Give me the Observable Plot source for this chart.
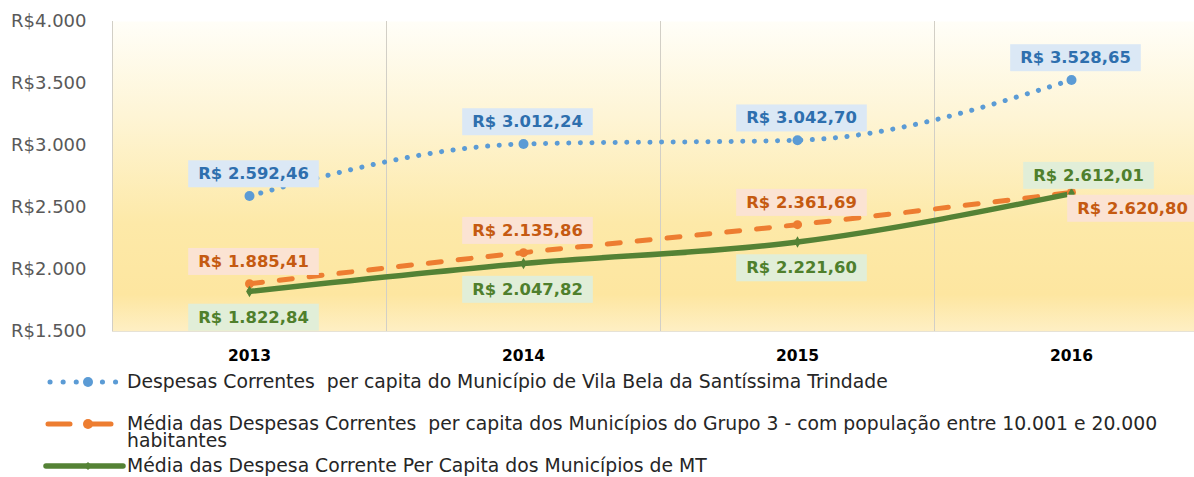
<!DOCTYPE html>
<html>
<head>
<meta charset="utf-8">
<script src="https://cdn.jsdelivr.net/npm/d3@7"></script>
<script src="https://cdn.jsdelivr.net/npm/@observablehq/plot@0.6"></script>
<style>
  html, body { margin: 0; padding: 0; background: #fff; overflow: hidden; }
  #chart svg { display: block; }
  .legend { font-family: "DejaVu Sans", sans-serif; font-size: 18.8px; color: #262626; position: relative; height: 112px; }
  .legend .item { position: absolute; left: 0; display: flex; align-items: flex-start; }
  .legend .item svg { display: block; flex: none; margin-top: 2px; }
  .legend .txt { white-space: pre; line-height: 17px; }
</style>
</head>
<body>
<div id="chart"></div>
<div class="legend" id="legend"></div>
<script>
// ---- data ----
const years = [2013, 2014, 2015, 2016];
const vilaBela = [2592.46, 3012.24, 3042.70, 3528.65];
const grupo3 = [1885.41, 2135.86, 2361.69, 2620.80];
const mediaMT = [1822.84, 2047.82, 2221.60, 2612.01];
const yTicks = [1500, 2000, 2500, 3000, 3500, 4000];
const seriesNames = [
  "Despesas Correntes  per capita do Município de Vila Bela da Santíssima Trindade",
  "Média das Despesas Correntes  per capita dos Municípios do Grupo 3 - com população entre 10.001 e 20.000\nhabitantes",
  "Média das Despesa Corrente Per Capita dos Municípios de MT"
];

const loc = d3.formatLocale({decimal: ",", thousands: ".", grouping: [3], currency: ["R$", ""]});
const money = loc.format(",.2f");
const intFmt = loc.format(",");

const toRows = (vals, key) => years.map((y, i) => ({year: y, value: vals[i], key, label: "R$ " + money(vals[i])}));
const blue = toRows(vilaBela, "a");
const orange = toRows(grupo3, "b");
const green = toRows(mediaMT, "c");
const boundaries = years.map(y => y - 0.5);

const C = {
  blue: "#5b9bd5", orange: "#ed7d31", green: "#548235",
  blueTxt: "#2e6fae", orangeTxt: "#c55a11", greenTxt: "#4f7f2c"
};
const boxFill = {};
boxFill[C.blueTxt] = "#dbe8f5";
boxFill[C.orangeTxt] = "#fbe3d3";
boxFill[C.greenTxt] = "#e1eed8";

const lblFont = {fontSize: 16.4, fontWeight: "bold"};

const plot = Plot.plot({
  width: 1208,
  height: 365,
  marginLeft: 112,
  marginRight: 0,
  marginTop: 21,
  marginBottom: 34,
  style: {fontFamily: "DejaVu Sans, sans-serif", maxWidth: "none", background: "transparent"},
  x: {domain: [2012.5, 2016.5]},
  y: {domain: [1500, 4000]},
  marks: [
    Plot.frame({fill: "url(#bgGrad)", stroke: "none"}),
    Plot.ruleX(boundaries, {stroke: "#d2cfc6", strokeWidth: 1}),
    Plot.ruleY([1500], {stroke: "#e6e2d6", strokeWidth: 1}),
    Plot.axisY({ticks: yTicks, tickSize: 0, tickPadding: 26, fontSize: 18, fill: "#595959", label: null,
      tickFormat: d => "R$" + intFmt(d)}),
    Plot.axisX({ticks: years, tickSize: 0, tickPadding: 18, fontSize: 15.5, fontWeight: "bold", fill: "#000", label: null,
      tickFormat: d => String(d)}),
    // lines
    Plot.line(blue, {x: "year", y: "value", curve: "monotone-x", stroke: C.blue, strokeWidth: 5,
      strokeDasharray: "0.1 11.5", strokeLinecap: "round"}),
    Plot.line(orange, {x: "year", y: "value", curve: "monotone-x", stroke: C.orange, strokeWidth: 5,
      strokeDasharray: "13 17", strokeLinecap: "round"}),
    Plot.line(green, {x: "year", y: "value", curve: "monotone-x", stroke: C.green, strokeWidth: 5.5,
      strokeLinecap: "round"}),
    // markers
    Plot.dot(blue, {x: "year", y: "value", r: 5, fill: C.blue}),
    Plot.dot(orange, {x: "year", y: "value", r: 4.5, fill: C.orange}),
    Plot.dot(green, {x: "year", y: "value", r: 3.5, symbol: "diamond", fill: C.green}),
    // labels
    Plot.text(blue, {x: "year", y: "value", text: "label", dx: 4, dy: -22, fill: C.blueTxt, ...lblFont}),
    Plot.text(orange.slice(0, 3), {x: "year", y: "value", text: "label", dx: 4, dy: -22, fill: C.orangeTxt, ...lblFont}),
    Plot.text(orange.slice(3), {x: "year", y: "value", text: "label", dx: 61, dy: 16, fill: C.orangeTxt, ...lblFont}),
    Plot.text(green.slice(0, 3), {x: "year", y: "value", text: "label", dx: 4, dy: 26, fill: C.greenTxt, ...lblFont}),
    Plot.text(green.slice(3), {x: "year", y: "value", text: "label", dx: 17, dy: -18, fill: C.greenTxt, ...lblFont})
  ]
});

// gradient background definition
const ns = "http://www.w3.org/2000/svg";
const defs = document.createElementNS(ns, "defs");
defs.innerHTML = `<linearGradient id="bgGrad" x1="0" y1="0" x2="0" y2="1">
  <stop offset="0" stop-color="#fffef8"/>
  <stop offset="0.3" stop-color="#fef5d6"/>
  <stop offset="0.65" stop-color="#fde9a8"/>
  <stop offset="0.88" stop-color="#fde6a0"/>
  <stop offset="1" stop-color="#feefc4"/>
</linearGradient>`;
plot.insertBefore(defs, plot.firstChild);

document.getElementById("chart").append(plot);

// label boxes behind data labels
plot.querySelectorAll('g[aria-label="text"]').forEach(g => {
  const f = g.getAttribute("fill");
  g.querySelectorAll("text").forEach(t => {
    const b = t.getBBox();
    const r = document.createElementNS(ns, "rect");
    r.setAttribute("x", b.x - 10);
    r.setAttribute("y", b.y - 4);
    r.setAttribute("width", b.width + 20);
    r.setAttribute("height", b.height + 8);
    r.setAttribute("fill", boxFill[f] || "#eee");
    if (t.getAttribute("transform")) r.setAttribute("transform", t.getAttribute("transform"));
    g.insertBefore(r, t);
  });
});

// legend
const legend = document.getElementById("legend");
const swatches = [
  `<svg width="127" height="14"><line x1="50" y1="7" x2="118" y2="7" stroke="${C.blue}" stroke-width="5" stroke-dasharray="0.1 13" stroke-linecap="round"/><circle cx="88" cy="7" r="5" fill="${C.blue}"/></svg>`,
  `<svg width="127" height="14"><line x1="48" y1="7" x2="120" y2="7" stroke="${C.orange}" stroke-width="5" stroke-dasharray="22 19" stroke-linecap="round"/><circle cx="88" cy="7" r="5" fill="${C.orange}"/></svg>`,
  `<svg width="127" height="14"><line x1="46" y1="7" x2="123" y2="7" stroke="${C.green}" stroke-width="5.5" stroke-linecap="round"/><path d="M88,3 L92,7 L88,11 L84,7 Z" fill="${C.green}"/></svg>`
];
const tops = [8, 50, 92];
seriesNames.forEach((name, i) => {
  const div = document.createElement("div");
  div.className = "item";
  div.style.top = tops[i] + "px";
  div.innerHTML = swatches[i] + `<span class="txt"></span>`;
  div.querySelector(".txt").textContent = name;
  legend.append(div);
});
</script>
</body>
</html>
